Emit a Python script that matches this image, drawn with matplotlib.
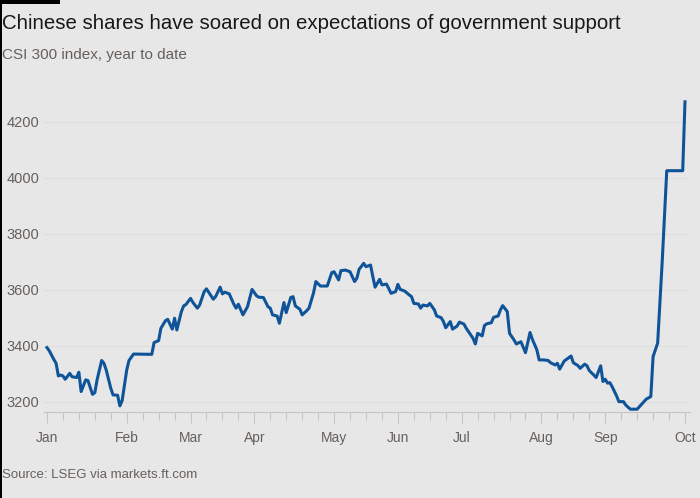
import matplotlib
matplotlib.use("Agg")
import numpy as np
import matplotlib.pyplot as plt
import matplotlib.dates as mdates
from matplotlib.patches import Rectangle

plt.rcParams["font.family"] = ["Liberation Sans", "DejaVu Sans"]

# CSI 300 index
dates = np.array([
    "2024-01-01", "2024-01-02", "2024-01-04", "2024-01-05", "2024-01-06", "2024-01-07",
    "2024-01-08", "2024-01-09", "2024-01-11", "2024-01-12", "2024-01-14", "2024-01-15",
    "2024-01-16", "2024-01-18", "2024-01-19", "2024-01-21", "2024-01-22", "2024-01-23",
    "2024-01-25", "2024-01-26", "2024-01-27", "2024-01-29", "2024-01-30", "2024-02-01",
    "2024-02-02", "2024-02-03", "2024-02-05", "2024-02-06", "2024-02-08", "2024-02-16",
    "2024-02-17", "2024-02-19", "2024-02-20", "2024-02-22", "2024-02-23", "2024-02-25",
    "2024-02-26", "2024-02-27", "2024-02-29", "2024-03-01", "2024-03-02", "2024-03-04",
    "2024-03-05", "2024-03-07", "2024-03-08", "2024-03-10", "2024-03-11", "2024-03-13",
    "2024-03-14", "2024-03-15", "2024-03-17", "2024-03-18", "2024-03-19", "2024-03-21",
    "2024-03-23", "2024-03-24", "2024-03-25", "2024-03-27", "2024-03-29", "2024-03-31",
    "2024-04-02", "2024-04-03", "2024-04-05", "2024-04-07", "2024-04-08", "2024-04-09",
    "2024-04-11", "2024-04-12", "2024-04-14", "2024-04-15", "2024-04-17", "2024-04-18",
    "2024-04-19", "2024-04-21", "2024-04-22", "2024-04-24", "2024-04-25", "2024-04-27",
    "2024-04-28", "2024-04-30", "2024-05-03", "2024-05-05", "2024-05-06", "2024-05-08",
    "2024-05-09", "2024-05-11", "2024-05-13", "2024-05-15", "2024-05-16", "2024-05-17",
    "2024-05-19", "2024-05-20", "2024-05-22", "2024-05-23", "2024-05-24", "2024-05-26",
    "2024-05-27", "2024-05-29", "2024-05-31", "2024-06-02", "2024-06-03", "2024-06-04",
    "2024-06-06", "2024-06-08", "2024-06-09", "2024-06-10", "2024-06-12", "2024-06-13",
    "2024-06-14", "2024-06-16", "2024-06-17", "2024-06-19", "2024-06-20", "2024-06-22",
    "2024-06-23", "2024-06-24", "2024-06-26", "2024-06-27", "2024-06-29", "2024-06-30",
    "2024-07-02", "2024-07-03", "2024-07-05", "2024-07-06", "2024-07-07", "2024-07-08",
    "2024-07-10", "2024-07-11", "2024-07-12", "2024-07-14", "2024-07-15", "2024-07-17",
    "2024-07-18", "2024-07-19", "2024-07-21", "2024-07-22", "2024-07-24", "2024-07-25",
    "2024-07-27", "2024-07-28", "2024-07-29", "2024-07-31", "2024-08-01", "2024-08-03",
    "2024-08-04", "2024-08-06", "2024-08-08", "2024-08-09", "2024-08-11", "2024-08-12",
    "2024-08-13", "2024-08-15", "2024-08-16", "2024-08-18", "2024-08-19", "2024-08-21",
    "2024-08-22", "2024-08-24", "2024-08-25", "2024-08-26", "2024-08-28", "2024-08-29",
    "2024-08-31", "2024-09-01", "2024-09-02", "2024-09-03", "2024-09-04", "2024-09-05",
    "2024-09-07", "2024-09-08", "2024-09-10", "2024-09-11", "2024-09-13", "2024-09-16",
    "2024-09-17", "2024-09-19", "2024-09-20", "2024-09-22", "2024-09-23", "2024-09-25",
    "2024-09-27", "2024-09-29", "2024-10-06", "2024-10-07",
], dtype="datetime64[D]")

values = [
    3394, 3383, 3352, 3338, 3293, 3296,
    3293, 3281, 3302, 3290, 3287, 3306,
    3237, 3279, 3276, 3227, 3233, 3279,
    3348, 3338, 3314, 3249, 3225, 3224,
    3186, 3205, 3314, 3348, 3371, 3370,
    3412, 3419, 3463, 3490, 3495, 3460,
    3499, 3457, 3523, 3543, 3548, 3570,
    3556, 3535, 3546, 3594, 3604, 3579,
    3567, 3576, 3610, 3586, 3592, 3586,
    3549, 3535, 3549, 3511, 3540, 3602,
    3579, 3574, 3573, 3540, 3535, 3511,
    3507, 3481, 3555, 3519, 3573, 3576,
    3543, 3531, 3511, 3526, 3535, 3590,
    3630, 3614, 3614, 3662, 3665, 3636,
    3669, 3671, 3665, 3630, 3642, 3674,
    3695, 3683, 3689, 3648, 3610, 3638,
    3618, 3621, 3588, 3594, 3620, 3602,
    3596, 3582, 3576, 3552, 3550, 3535,
    3546, 3543, 3552, 3529, 3507, 3501,
    3487, 3465, 3487, 3460, 3471, 3485,
    3478, 3463, 3439, 3427, 3407, 3445,
    3436, 3473, 3479, 3483, 3502, 3507,
    3529, 3544, 3523, 3445, 3421, 3407,
    3415, 3395, 3376, 3448, 3424, 3386,
    3350, 3350, 3348, 3340, 3332, 3338,
    3317, 3346, 3352, 3364, 3340, 3330,
    3320, 3335, 3329, 3312, 3296, 3287,
    3329, 3273, 3281, 3267, 3269, 3255,
    3221, 3201, 3201, 3189, 3174, 3174,
    3183, 3201, 3210, 3219, 3362, 3410,
    3701, 4026, 4026, 4272,
]

month_ticks = np.array(["2024-01-01", "2024-02-05", "2024-03-04", "2024-04-01", "2024-05-06",
                        "2024-06-03", "2024-07-01", "2024-08-05", "2024-09-02", "2024-10-07"],
                       dtype="datetime64[D]")
month_labels = ["Jan", "Feb", "Mar", "Apr", "May", "Jun", "Jul", "Aug", "Sep", "Oct"]
y_ticks = [3200, 3400, 3600, 3800, 4000, 4200]

bg = "#e7e7e7"
grey_text = "#66605c"

fig = plt.figure(figsize=(7, 4.98), dpi=100, facecolor=bg)
ax = fig.add_axes([44 / 700, 86 / 498, 646 / 700, 332 / 498], facecolor=bg)

ax.plot(dates, values, color="#0f5499", lw=2.2, solid_joinstyle="round", zorder=3)

start = mdates.date2num(np.datetime64("2024-01-01"))
ax.set_xlim(start - 1.3, start + 282.2)
ax.set_ylim(3164, 4350)

ax.set_yticks(y_ticks)
ax.set_yticklabels([str(v) for v in y_ticks])
ax.grid(axis="y", color="#dedede", lw=0.8, zorder=0)
ax.tick_params(axis="y", length=0, pad=27, labelsize=10.5, labelcolor=grey_text)
for lbl in ax.get_yticklabels():
    lbl.set_horizontalalignment("left")

ax.set_xticks(month_ticks)
ax.set_xticklabels(month_labels)
ax.xaxis.set_minor_locator(mdates.WeekdayLocator(byweekday=mdates.MO))
ax.tick_params(axis="x", which="major", length=8, width=0.8, color="#c4c4c4",
               pad=6, labelsize=10, labelcolor=grey_text)
ax.tick_params(axis="x", which="minor", length=6, width=0.8, color="#c4c4c4")

for side in ["top", "right", "left"]:
    ax.spines[side].set_visible(False)
ax.spines["bottom"].set_color("#c4c4c4")
ax.spines["bottom"].set_linewidth(0.8)

fig.text(2 / 700, 1 - 29 / 498, "Chinese shares have soared on expectations of government support",
         fontsize=14.7, color="#1a1817", va="baseline", ha="left")
fig.text(2 / 700, 1 - 58.5 / 498, "CSI 300 index, year to date",
         fontsize=11, color=grey_text, va="baseline", ha="left")
fig.text(2 / 700, 1 - 478 / 498, "Source: LSEG via markets.ft.com",
         fontsize=9.5, color=grey_text, va="baseline", ha="left")

# black FT bar at the top left and thin edge on the left
fig.patches.append(Rectangle((0, 1 - 4 / 498), 60 / 700, 4 / 498, transform=fig.transFigure,
                             facecolor="black", edgecolor="none"))
fig.patches.append(Rectangle((0, 0), 1.5 / 700, 1, transform=fig.transFigure,
                             facecolor="black", edgecolor="none"))

fig.savefig("out.png", dpi=100, facecolor=bg)
